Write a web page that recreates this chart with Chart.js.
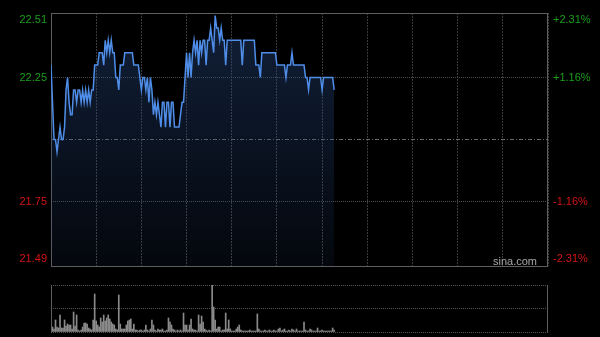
<!DOCTYPE html>
<html><head><meta charset="utf-8">
<script src="https://cdn.jsdelivr.net/npm/chart.js@4"></script>
<style>
html,body{margin:0;padding:0;background:#000;width:600px;height:337px;overflow:hidden}
#cp{position:absolute;left:0;top:0}
#cv{position:absolute;left:0;top:275px}
</style></head><body>
<canvas id="cp" width="600" height="280"></canvas>
<canvas id="cv" width="600" height="62"></canvas>
<script>
// session length in minutes (HK market: 09:30-12:00, 13:00-16:00)
const sessionMinutes = 330;
const gridStepMinutes = 30;
const prevClose = 22.00;
const priceMin = 21.49, priceMax = 22.51;
const priceTickValues = [21.49, 21.75, 22.00, 22.25, 22.51];
const priceTickLabels = ['21.49', '21.75', '', '22.25', '22.51'];
const pctTickLabels = ['-2.31%', '-1.16%', '', '+1.16%', '+2.31%'];

const prices = [
  22.30,22.15,22.00,22.00,21.95,22.00,22.05,22.00,22.00,22.05,
  22.20,22.25,22.15,22.10,22.10,22.20,22.20,22.15,22.20,22.20,
  22.15,22.20,22.15,22.20,22.15,22.20,22.15,22.20,22.20,22.30,
  22.30,22.30,22.35,22.35,22.35,22.30,22.40,22.35,22.40,22.35,
  22.40,22.35,22.35,22.25,22.25,22.20,22.30,22.30,22.30,22.35,
  22.35,22.35,22.35,22.35,22.35,22.30,22.30,22.30,22.30,22.25,
  22.20,22.25,22.25,22.20,22.25,22.15,22.25,22.20,22.10,22.15,
  22.10,22.15,22.10,22.05,22.15,22.15,22.05,22.15,22.15,22.05,
  22.15,22.15,22.05,22.05,22.05,22.05,22.10,22.15,22.15,22.25,
  22.35,22.25,22.35,22.25,22.35,22.40,22.35,22.40,22.30,22.40,
  22.35,22.40,22.40,22.30,22.40,22.40,22.45,22.40,22.35,22.50,
  22.45,22.45,22.40,22.45,22.40,22.40,22.30,22.40,22.40,22.40,
  22.40,22.40,22.40,22.40,22.40,22.40,22.40,22.30,22.40,22.40,
  22.40,22.40,22.40,22.40,22.40,22.40,22.30,22.30,22.30,22.25,
  22.35,22.35,22.35,22.35,22.35,22.35,22.35,22.35,22.35,22.35,
  22.30,22.30,22.30,22.30,22.30,22.30,22.25,22.30,22.30,22.30,
  22.35,22.30,22.30,22.30,22.30,22.30,22.30,22.30,22.30,22.25,
  22.25,22.20,22.25,22.25,22.25,22.25,22.25,22.25,22.25,22.25,
  22.20,22.25,22.25,22.25,22.25,22.25,22.25,22.25,22.20
];

const volumes = [
  2,5,3,12,5,4,17,4,4,12,
  6,8,7,7,3,20,6,17,2,1,
  2,5,9,9,8,4,3,2,12,38,
  11,7,5,14,10,17,11,14,17,13,
  10,8,7,3,2,37,8,3,3,3,
  7,11,12,13,3,8,2,2,1,2,
  2,1,2,7,2,1,3,12,7,2,
  1,3,2,2,3,1,1,2,14,10,
  7,3,2,1,2,1,2,1,19,7,
  7,2,7,13,3,2,2,1,17,8,
  16,10,3,2,1,2,1,47,25,12,
  3,5,5,1,2,2,19,3,12,3,
  1,1,1,3,5,7,2,1,1,1,
  1,1,2,1,1,1,1,18,3,1,
  1,1,2,1,1,2,1,1,2,1,
  1,3,4,1,2,3,1,1,2,1,
  3,2,1,3,1,1,1,1,10,2,
  1,1,3,2,1,1,1,4,1,1,
  2,1,1,1,1,1,1,4,2
];

const FONT = {family: "'Liberation Sans', Arial, sans-serif", size: 11};
const GREEN = '#1a9e1a', RED = '#d41414';
const LEFT_W = 51, RIGHT_W = 52;

function labelLines(text, idx) {
  if (!text) return '';
  if (idx === priceTickValues.length - 1) return ['', text];
  if (idx === 0) return [text, ''];
  return text;
}
function tickColor(ctx) {
  const v = ctx.tick ? ctx.tick.value : prevClose;
  return v > prevClose ? GREEN : RED;
}
function fixVertical(width) {
  return function (s) { s.width = width; s.paddingTop = 0; s.paddingBottom = 0; };
}

const framePlugin = {
  id: 'frame',
  beforeDatasetsDraw(chart) {
    const a = chart.chartArea, c = chart.ctx;
    c.save();
    c.strokeStyle = '#5e5e5e'; c.lineWidth = 1;
    c.strokeRect(a.left + 0.5, a.top + 0.5, a.right - a.left - 1, a.bottom - a.top);
    c.restore();
  },
  afterDraw(chart) {
    const a = chart.chartArea, c = chart.ctx;
    c.save();
    c.fillStyle = '#a8a8a8';
    c.font = "11px 'Liberation Sans', Arial, sans-serif";
    c.textAlign = 'right'; c.textBaseline = 'middle';
    c.fillText('sina.com', a.right - 11, a.bottom - 4);
    c.restore();
  }
};

const ctxP = document.getElementById('cp').getContext('2d');
const grad = ctxP.createLinearGradient(0, 13, 0, 266);
grad.addColorStop(0, 'rgba(38,70,125,0.45)');
grad.addColorStop(1, 'rgba(38,70,125,0.10)');

new Chart(ctxP, {
  type: 'line',
  data: {
    datasets: [{
      data: prices.map((p, i) => ({x: i, y: p})),
      borderColor: '#4f8ee8', borderWidth: 1.5,
      pointRadius: 0, tension: 0, fill: 'start', backgroundColor: grad
    }]
  },
  options: {
    responsive: false, animation: false,
    layout: {padding: {top: 13, bottom: 14, left: 0, right: 0}},
    plugins: {legend: {display: false}, tooltip: {enabled: false}},
    scales: {
      x: {
        type: 'linear', min: 0, max: sessionMinutes,
        ticks: {display: false, stepSize: gridStepMinutes},
        grid: {color: '#3c3c3c', drawTicks: false, lineWidth: 1},
        border: {display: false, dash: [2, 1]},
        afterFit(s) { s.height = 0; s.paddingLeft = 0; s.paddingRight = 0; }
      },
      y: {
        position: 'left', min: priceMin, max: priceMax,
        afterBuildTicks(s) { s.ticks = priceTickValues.map(v => ({value: v})); },
        ticks: {
          autoSkip: false, padding: 4, font: FONT, color: tickColor,
          callback: (v, i) => labelLines(priceTickLabels[i], i)
        },
        grid: {drawTicks: false, color: ctx => (ctx.tick && ctx.tick.value === prevClose) ? '#6a6a6a' : '#4e4e4e'},
        border: {display: false, dash: ctx => (ctx.tick && ctx.tick.value === prevClose) ? [4, 2, 1, 2] : [1, 1]},
        afterFit: fixVertical(LEFT_W)
      },
      y2: {
        position: 'right', min: priceMin, max: priceMax,
        afterBuildTicks(s) { s.ticks = priceTickValues.map(v => ({value: v})); },
        ticks: {
          autoSkip: false, padding: 5, font: FONT, color: tickColor,
          callback: (v, i) => labelLines(pctTickLabels[i], i)
        },
        grid: {display: false, drawTicks: false},
        border: {display: false},
        afterFit: fixVertical(RIGHT_W)
      }
    }
  },
  plugins: [framePlugin]
});

const volMax = Math.max(...volumes);
const volFrame = {
  id: 'volFrame',
  afterDatasetsDraw(chart) {
    const a = chart.chartArea, c = chart.ctx;
    c.save();
    c.strokeStyle = '#5e5e5e'; c.lineWidth = 1;
    c.beginPath();
    c.moveTo(a.left + 0.5, a.top); c.lineTo(a.left + 0.5, a.bottom);
    c.moveTo(a.right - 0.5, a.top); c.lineTo(a.right - 0.5, a.bottom);
    c.stroke();
    c.restore();
  }
};

new Chart(document.getElementById('cv').getContext('2d'), {
  type: 'bar',
  data: {
    datasets: [{
      data: volumes.map((v, i) => ({x: i, y: v})),
      backgroundColor: '#8a8a8a', borderWidth: 0, barThickness: 1
    }]
  },
  options: {
    responsive: false, animation: false,
    layout: {padding: {top: 10, bottom: 5, left: 0, right: 0}},
    plugins: {legend: {display: false}, tooltip: {enabled: false}},
    scales: {
      x: {
        type: 'linear', min: 0, max: sessionMinutes, offset: false,
        ticks: {display: false}, grid: {display: false, offset: false},
        border: {display: false},
        afterFit(s) { s.height = 0; s.paddingLeft = 0; s.paddingRight = 0; }
      },
      y: {
        position: 'left', min: 0, max: volMax,
        afterBuildTicks(s) { s.ticks = [0, volMax / 2, volMax].map(v => ({value: v})); },
        ticks: {display: false},
        grid: {drawTicks: false, color: '#555555'},
        border: {display: false, dash: [1, 1]},
        afterFit: fixVertical(LEFT_W)
      },
      y2: {
        position: 'right', min: 0, max: volMax,
        ticks: {display: false}, grid: {display: false, drawTicks: false},
        border: {display: false},
        afterFit: fixVertical(RIGHT_W)
      }
    }
  },
  plugins: [volFrame]
});
</script>
</body></html>
